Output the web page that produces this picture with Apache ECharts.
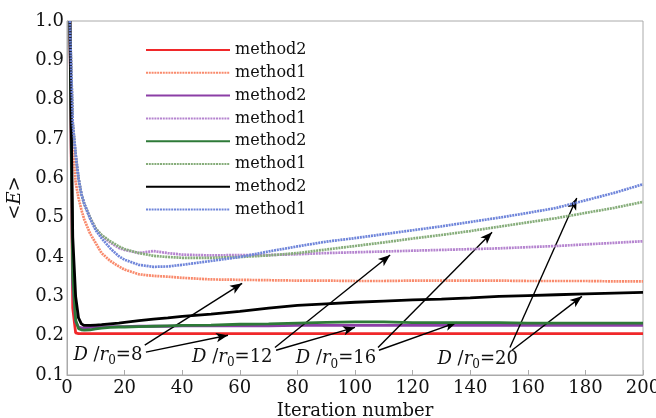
<!DOCTYPE html>
<html><head><meta charset="utf-8">
<script src="https://cdn.jsdelivr.net/npm/echarts@6/dist/echarts.min.js"></script>
<style>html,body{margin:0;padding:0;background:#fff}#c{width:656px;height:418px}</style>
</head><body><div id="c"></div>
<script>
// ---------- data ----------
const iterations = [1,2,3,4,5,6,8,10,12,15,18,20,25,30,35,40,50,60,70,80,90,100,110,120,130,140,150,160,170,180,190,200];

const seriesKeys   = ['d8m2','d8m1','d12m2','d12m1','d16m2','d16m1','d20m2','d20m1'];
const seriesLabels = ['method2','method1','method2','method1','method2','method1','method2','method1'];

const d8m2  = [1.0,0.27,0.207,0.205,0.205,0.205,0.205,0.205,0.205,0.205,0.205,0.205,0.205,0.205,0.205,0.205,0.205,0.205,0.205,0.205,0.205,0.205,0.205,0.205,0.205,0.205,0.205,0.205,0.205,0.205,0.205,0.205];
const d8m1  = [1.0,0.68,0.59,0.55,0.52,0.495,0.46,0.435,0.41,0.39,0.376,0.368,0.356,0.352,0.35,0.347,0.343,0.342,0.341,0.34,0.34,0.339,0.339,0.34,0.34,0.34,0.34,0.339,0.339,0.339,0.338,0.338];
const d12m2 = [1.0,0.33,0.235,0.222,0.22,0.22,0.221,0.222,0.222,0.223,0.223,0.223,0.224,0.224,0.224,0.225,0.225,0.225,0.225,0.226,0.226,0.226,0.226,0.226,0.226,0.226,0.226,0.226,0.226,0.226,0.226,0.226];
const d12m1 = [1.0,0.74,0.66,0.6,0.56,0.535,0.5,0.472,0.455,0.437,0.423,0.418,0.41,0.415,0.41,0.406,0.404,0.405,0.405,0.407,0.41,0.412,0.414,0.416,0.418,0.42,0.422,0.425,0.428,0.432,0.436,0.44];
const d16m2 = [1.0,0.35,0.24,0.218,0.215,0.214,0.215,0.217,0.219,0.221,0.222,0.222,0.223,0.224,0.225,0.226,0.227,0.229,0.23,0.232,0.234,0.235,0.235,0.233,0.233,0.233,0.233,0.232,0.232,0.232,0.232,0.232];
const d16m1 = [1.0,0.74,0.66,0.6,0.56,0.535,0.5,0.472,0.456,0.44,0.427,0.42,0.41,0.403,0.4,0.398,0.398,0.4,0.404,0.41,0.419,0.428,0.437,0.447,0.456,0.466,0.477,0.488,0.499,0.512,0.525,0.54];
const d20m2 = [1.0,0.45,0.3,0.245,0.23,0.226,0.226,0.227,0.228,0.23,0.232,0.234,0.238,0.242,0.245,0.249,0.255,0.262,0.27,0.277,0.281,0.285,0.288,0.291,0.293,0.296,0.3,0.302,0.304,0.306,0.308,0.31];
const d20m1 = [1.0,0.74,0.66,0.6,0.56,0.535,0.498,0.468,0.448,0.422,0.402,0.393,0.38,0.375,0.376,0.38,0.39,0.4,0.414,0.427,0.439,0.448,0.458,0.468,0.478,0.489,0.5,0.512,0.525,0.544,0.563,0.585];

const seriesValues = [d8m2,d8m1,d12m2,d12m1,d16m2,d16m1,d20m2,d20m1];

// annotation labels (D/r0 values), where they sit and the arrows they send (data coords)
const annotationValues = ['8','12','16','20'];
const annotationAt = [[14.2,0.150],[57.4,0.146],[93.4,0.142],[142.6,0.140]];
const annotationArrows = [
  [[27.0,0.176],[60.8,0.333]], [[27.4,0.158],[55.9,0.201]],
  [[72.2,0.170],[112.2,0.405]], [[72.6,0.163],[100.0,0.221]],
  [[108.0,0.170],[147.6,0.463]], [[108.3,0.163],[135.4,0.234]],
  [[153.8,0.170],[177.0,0.550]], [[154.5,0.163],[178.8,0.300]]
];

// ---------- styles ----------
const colors = ['#f0282a','#f98a6c','#8b3fa6','#b584cf','#2e7a38','#86ad7a','#000000','#6f85da'];
const isDotted = [false,true,false,true,false,true,false,true];
const FONT = 'DejaVu Serif';

const series = seriesKeys.map((k, i) => ({
  name: k,
  type: 'line',
  data: iterations.map((x, j) => [x, seriesValues[i][j]]),
  symbol: 'none',
  smooth: false,
  z: 2 + i,
  lineStyle: isDotted[i]
    ? { color: colors[i], width: 2.7, type: [2, 0.8] }
    : { color: colors[i], width: 2.8, type: 'solid' },
  itemStyle: { color: colors[i] },
  animation: false
}));

// annotation layer (arrows + texts) attached to an extra empty series
series.push({
  name: 'annot',
  type: 'line',
  data: [],
  symbol: 'none',
  z: 20,
  animation: false,
  markLine: {
    silent: true,
    animation: false,
    symbol: ['none', 'arrow'],
    symbolSize: [7, 12],
    lineStyle: { color: '#000', width: 1.4, type: 'solid' },
    label: { show: false },
    data: annotationArrows.map(a => [{ coord: a[0] }, { coord: a[1] }])
  },
  markPoint: {
    silent: true,
    animation: false,
    symbol: 'circle',
    symbolSize: 0,
    itemStyle: { color: 'transparent' },
    label: {
      show: true,
      position: 'inside',
      color: '#111',
      fontFamily: FONT,
      fontSize: 18,
      rich: {
        i: { fontFamily: FONT, fontStyle: 'italic', fontSize: 18, color: '#111' },
        n: { fontFamily: FONT, fontSize: 18, color: '#111' },
        s: { fontFamily: FONT, fontSize: 12, color: '#111', padding: [12, 0, 0, 0] }
      }
    },
    data: annotationValues.map((v, i) => ({
      coord: annotationAt[i],
      label: { formatter: '{i|D}{n| /}{i|r}{s|0}{n|=' + v + '}' }
    }))
  }
});

const chart = echarts.init(document.getElementById('c'), null, { renderer: 'canvas' });
chart.setOption({
  animation: false,
  backgroundColor: '#fff',
  grid: { left: 67, right: 13, top: 21, bottom: 43, outerBoundsMode: 'none', containLabel: false,
          show: true, borderColor: '#aaa', borderWidth: 1, backgroundColor: 'transparent' },
  legend: {
    data: seriesKeys,
    orient: 'vertical',
    left: 145,
    top: 40,
    padding: 0,
    itemWidth: 84,
    itemHeight: 14,
    itemGap: 2.8,
    itemStyle: { color: 'transparent', borderColor: 'transparent', borderWidth: 0 },
    formatter: name => seriesLabels[seriesKeys.indexOf(name)],
    textStyle: { fontFamily: FONT, fontSize: 16, color: '#111', lineHeight: 20 },
    selectedMode: false
  },
  xAxis: {
    type: 'value', min: 0, max: 200, interval: 20,
    name: 'Iteration number', nameLocation: 'middle', nameGap: 24,
    nameTextStyle: { fontFamily: FONT, fontSize: 18, color: '#111' },
    axisLine: { show: true, lineStyle: { color: '#aaa', width: 1 } },
    axisTick: { show: true, inside: true, length: 5, lineStyle: { color: '#aaa' } },
    axisLabel: { fontFamily: FONT, fontSize: 18, color: '#111', margin: 4 },
    splitLine: { show: false }
  },
  yAxis: {
    type: 'value', min: 0.1, max: 1.0, interval: 0.1,
    name: '<{i|E}>', nameLocation: 'middle', nameGap: 39, nameRotate: 90,
    nameTextStyle: { fontFamily: FONT, fontSize: 18, color: '#111',
      rich: { i: { fontFamily: FONT, fontStyle: 'italic', fontSize: 18, color: '#111' } } },
    axisLine: { show: true, lineStyle: { color: '#aaa', width: 1 } },
    axisTick: { show: false },
    axisLabel: { fontFamily: FONT, fontSize: 18, color: '#111', margin: 3, formatter: v => v.toFixed(1) },
    splitLine: { show: false }
  },
  series: series
});
</script>
</body></html>
